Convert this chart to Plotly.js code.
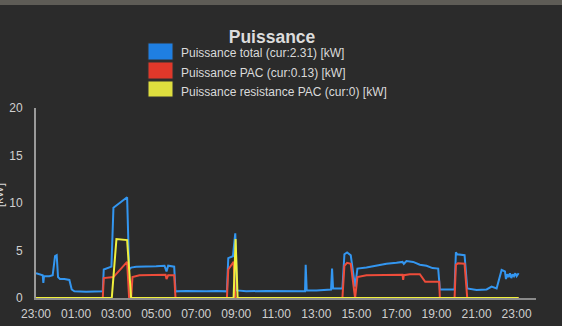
<!DOCTYPE html>
<html>
<head>
<meta charset="utf-8">
<script src="https://cdn.plot.ly/plotly-3.0.1.min.js"></script>
<style>
html,body{margin:0;padding:0;background:#2b2b2b;}
#chart{width:562px;height:326px;}
</style>
</head>
<body>
<div id="chart"></div>
<script>
// ---- data ----
const seriesNames = ["Puissance total", "Puissance PAC", "Puissance resistance PAC"];
const currentValues = ["2.31", "0.13", "0"];
const unit = "[kW]";

const totalTimes = ["2024-01-01 23:00","2024-01-01 23:10","2024-01-01 23:20","2024-01-01 23:22","2024-01-01 23:24","2024-01-01 23:40","2024-01-01 23:50","2024-01-01 23:57",
"2024-01-02 00:02","2024-01-02 00:06","2024-01-02 00:12","2024-01-02 00:25","2024-01-02 00:40","2024-01-02 00:47","2024-01-02 00:55","2024-01-02 01:30","2024-01-02 02:00","2024-01-02 02:20",
"2024-01-02 02:23","2024-01-02 02:40","2024-01-02 02:46","2024-01-02 02:52","2024-01-02 03:10","2024-01-02 03:33","2024-01-02 03:39","2024-01-02 03:45","2024-01-02 04:00","2024-01-02 04:30",
"2024-01-02 05:00","2024-01-02 05:25","2024-01-02 05:31","2024-01-02 05:36","2024-01-02 05:54","2024-01-02 05:58","2024-01-02 06:30","2024-01-02 07:30","2024-01-02 08:00","2024-01-02 08:32",
"2024-01-02 08:36","2024-01-02 08:50","2024-01-02 08:57","2024-01-02 09:02","2024-01-02 09:30","2024-01-02 10:30","2024-01-02 11:30","2024-01-02 12:26","2024-01-02 12:28","2024-01-02 12:31",
"2024-01-02 13:00","2024-01-02 13:44","2024-01-02 13:47","2024-01-02 13:50","2024-01-02 14:18","2024-01-02 14:24","2024-01-02 14:32","2024-01-02 14:43","2024-01-02 14:56","2024-01-02 15:03",
"2024-01-02 15:30","2024-01-02 16:00","2024-01-02 16:30","2024-01-02 17:00","2024-01-02 17:18","2024-01-02 17:22","2024-01-02 17:30","2024-01-02 17:50","2024-01-02 18:10","2024-01-02 18:30",
"2024-01-02 18:48","2024-01-02 19:05","2024-01-02 19:10","2024-01-02 19:54","2024-01-02 19:58","2024-01-02 20:02","2024-01-02 20:24","2024-01-02 20:32","2024-01-02 21:00","2024-01-02 21:30",
"2024-01-02 21:45","2024-01-02 22:00","2024-01-02 22:15","2024-01-02 22:25","2024-01-02 22:28","2024-01-02 22:32","2024-01-02 22:36","2024-01-02 22:40","2024-01-02 22:44","2024-01-02 22:48",
"2024-01-02 22:52","2024-01-02 22:56","2024-01-02 23:00","2024-01-02 23:06"];
const totalValues = [2.6,2.5,2.4,1.6,2.3,2.3,2.4,4.4,
4.5,2.2,2.0,2.0,1.9,0.9,0.7,0.65,0.7,0.7,
3.0,3.2,3.3,9.5,10.0,10.6,3.0,3.2,3.3,3.3,
3.35,3.4,2.8,3.4,3.3,0.7,0.75,0.7,0.75,0.7,
4.2,4.4,6.8,0.8,0.7,0.75,0.7,0.7,3.5,0.8,
0.8,0.9,3.1,1.0,1.0,4.6,4.8,4.5,1.2,3.1,
3.2,3.4,3.6,3.7,3.8,3.6,3.9,3.8,3.5,3.4,
3.15,3.1,0.9,0.9,4.8,4.6,4.5,1.0,0.85,0.9,
1.2,1.0,2.95,2.8,2.0,2.5,2.2,2.6,2.1,2.5,
2.3,2.6,2.3,2.6];

const pacTimes = ["2024-01-01 23:00","2024-01-02 02:20","2024-01-02 02:23","2024-01-02 02:52","2024-01-02 03:33","2024-01-02 03:39","2024-01-02 03:45","2024-01-02 03:49",
"2024-01-02 04:10","2024-01-02 05:00","2024-01-02 05:28","2024-01-02 05:31","2024-01-02 05:36","2024-01-02 05:54","2024-01-02 05:58","2024-01-02 08:32","2024-01-02 08:36","2024-01-02 08:52",
"2024-01-02 08:57","2024-01-02 14:18","2024-01-02 14:24","2024-01-02 14:32","2024-01-02 14:43","2024-01-02 14:56","2024-01-02 15:03","2024-01-02 15:30","2024-01-02 16:30","2024-01-02 17:18",
"2024-01-02 17:20","2024-01-02 17:22","2024-01-02 17:40","2024-01-02 18:10","2024-01-02 18:26","2024-01-02 19:08","2024-01-02 19:10","2024-01-02 19:54","2024-01-02 19:58","2024-01-02 20:04",
"2024-01-02 20:24","2024-01-02 20:32","2024-01-02 23:06"];
const pacValues = [0,0,2.1,2.2,3.8,0,0,2.2,
2.4,2.4,2.45,2.0,2.4,2.4,0,0,3.0,3.8,
0,0,3.4,3.7,3.6,0,2.2,2.4,2.45,2.45,
1.9,2.4,2.5,2.5,1.7,1.7,0,0,3.5,3.65,
3.6,0,0];

const resTimes = ["2024-01-01 23:00","2024-01-02 02:47","2024-01-02 03:01","2024-01-02 03:33","2024-01-02 03:45","2024-01-02 08:52","2024-01-02 08:58","2024-01-02 09:04","2024-01-02 23:06"];
const resValues = [0,0,6.2,6.1,0,0,6.2,0,0];

const xTickVals = ["2024-01-01 23:00","2024-01-02 01:00","2024-01-02 03:00","2024-01-02 05:00","2024-01-02 07:00","2024-01-02 09:00","2024-01-02 11:00","2024-01-02 13:00","2024-01-02 15:00","2024-01-02 17:00","2024-01-02 19:00","2024-01-02 21:00","2024-01-02 23:00"];
const xTickText = ["23:00","01:00","03:00","05:00","07:00","09:00","11:00","13:00","15:00","17:00","19:00","21:00","23:00"];
const yTickVals = [0,5,10,15,20];

// ---- styling ----
const colors = ["#3396f0", "#ee4c3a", "#f0f03c"];
const swatchColors = ["#1f7fe2", "#e0382a", "#dede3e"];
const W = 562, H = 326;
const M = {l:36, r:26, t:108, b:28};
const pw = W - M.l - M.r, ph = H - M.t - M.b;
const px = x => (x - M.l) / pw;
const py = y => (H - M.b - y) / ph;

const data = [
  {x: totalTimes, y: totalValues, type: 'scatter', mode: 'lines', line: {color: colors[0], width: 2}, hoverinfo: 'skip', showlegend: false},
  {x: pacTimes, y: pacValues, type: 'scatter', mode: 'lines', line: {color: colors[1], width: 2}, hoverinfo: 'skip', showlegend: false},
  {x: resTimes, y: resValues, type: 'scatter', mode: 'lines', line: {color: colors[2], width: 2}, hoverinfo: 'skip', showlegend: false}
];

const shapes = [
  {type: 'rect', xref: 'paper', yref: 'paper', x0: px(0), x1: px(W), y0: py(0), y1: py(5), fillcolor: '#5e5c56', line: {width: 0}, layer: 'below'}
];
const annotations = [];
const swTop = [43, 62, 81], swBot = [60, 79, 97], txtY = [53, 73, 92];
for (let i = 0; i < 3; i++) {
  shapes.push({type: 'rect', xref: 'paper', yref: 'paper', x0: px(148), x1: px(173), y0: py(swBot[i]), y1: py(swTop[i]),
    fillcolor: swatchColors[i], line: {color: '#333', width: 1}});
  annotations.push({xref: 'paper', yref: 'paper', x: px(179), y: py(txtY[i]), xanchor: 'left', yanchor: 'middle', showarrow: false,
    text: seriesNames[i] + ' (cur:' + currentValues[i] + ') ' + unit, font: {size: 12, color: '#dadada'}});
}
annotations.push({xref: 'paper', yref: 'paper', x: px(-1), y: py(195), xanchor: 'center', yanchor: 'middle', showarrow: false,
  textangle: -90, text: unit, font: {size: 12, color: '#d8d8d8'}});

const layout = {
  width: W, height: H,
  margin: M,
  paper_bgcolor: '#2b2b2b', plot_bgcolor: '#2b2b2b',
  font: {family: 'Liberation Sans, Arial, sans-serif', color: '#d0d0d0', size: 12},
  title: {text: '<b>Puissance</b>', x: px(272), xref: 'paper', xanchor: 'center', y: 1 - 37 / H, yanchor: 'middle', font: {size: 17.5, color: '#dcdcdc'}},
  xaxis: {type: 'date', range: ['2024-01-01 23:00', '2024-01-02 23:58'], tickvals: xTickVals, ticktext: xTickText,
    showgrid: false, zeroline: false, showline: true, linecolor: '#8a8a8a', linewidth: 2,
    ticks: 'outside', ticklen: 4, tickcolor: 'rgba(0,0,0,0)', tickfont: {size: 12, color: '#d0d0d0'}, fixedrange: true},
  yaxis: {range: [0, 20], tickvals: yTickVals, showgrid: false, zeroline: false, showline: true, linecolor: '#9a9a9a', linewidth: 2,
    ticks: 'outside', ticklen: 9, tickcolor: 'rgba(0,0,0,0)', tickfont: {size: 12, color: '#d0d0d0'}, fixedrange: true},
  shapes: shapes,
  annotations: annotations,
  showlegend: false
};

Plotly.newPlot('chart', data, layout, {displayModeBar: false, staticPlot: true});
</script>
</body>
</html>
